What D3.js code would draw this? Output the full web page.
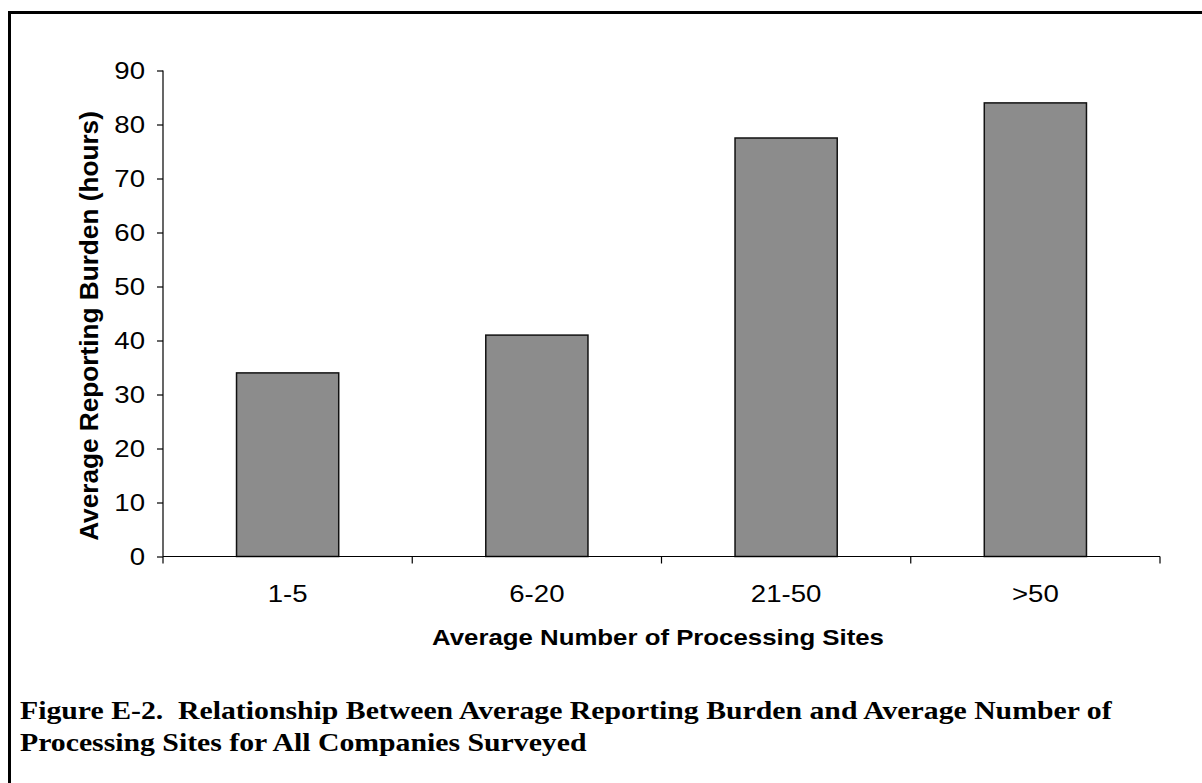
<!DOCTYPE html>
<html>
<head>
<meta charset="utf-8">
<script src="https://cdn.jsdelivr.net/npm/d3@7"></script>
<style>
  html, body { margin: 0; padding: 0; background: #fff; }
  svg { display: block; }
  .sans { font-family: "Liberation Sans", Arial, Helvetica, sans-serif; }
  .serif { font-family: "Liberation Serif", "Times New Roman", serif; white-space: pre; }
</style>
</head>
<body>
<svg id="chart" width="1202" height="783"></svg>
<script>
const categories = ["1-5", "6-20", "21-50", ">50"];
const values = [34, 41, 77.5, 84];
const yTicks = [0, 10, 20, 30, 40, 50, 60, 70, 80, 90];
const yTitle = "Average Reporting Burden (hours)";
const xTitle = "Average Number of Processing Sites";
const captionLines = [
  "Figure E-2.  Relationship Between Average Reporting Burden and Average Number of",
  "Processing Sites for All Companies Surveyed"
];

const svg = d3.select("#chart");
const SX = 1.2; // horizontal stretch of the lettering

// frame
svg.append("path")
  .attr("d", "M9.5,783 V12.5 H1202")
  .attr("fill", "none").attr("stroke", "#000").attr("stroke-width", 3);

const plot = { left: 163, right: 1160, top: 70.5, bottom: 556.5 };

const x = d3.scaleBand().domain(categories).range([plot.left, plot.right]).padding(0);
const y = d3.scaleLinear().domain([0, 90]).range([plot.bottom, plot.top]);
const barW = x.bandwidth() * 0.41;

// bars
svg.append("g").selectAll("rect").data(values).join("rect")
  .attr("x", (d, i) => x(categories[i]) + x.bandwidth() / 2 - barW / 2)
  .attr("y", d => y(d))
  .attr("width", barW)
  .attr("height", d => y(0) - y(d))
  .attr("fill", "#8c8c8c")
  .attr("stroke", "#111")
  .attr("stroke-width", 1.5);

// y axis
const yAxis = svg.append("g").attr("transform", `translate(${plot.left},0)`)
  .call(d3.axisLeft(y).tickValues(yTicks).tickSize(6).tickPadding(0).tickFormat(d3.format("d")));
yAxis.select(".domain").attr("stroke", "#000").attr("stroke-width", 1.2).attr("d", `M0,${plot.top}V${plot.bottom}`);
yAxis.selectAll(".tick line").attr("stroke", "#000").attr("stroke-width", 1.2);
yAxis.selectAll(".tick text").remove();
yAxis.selectAll(".tick").append("text")
  .attr("class", "sans")
  .attr("transform", `translate(-18,0) scale(${SX},1)`)
  .attr("text-anchor", "end").attr("dy", "0.36em")
  .attr("font-size", 23).attr("fill", "#000")
  .text(d => d);

// x axis
const xAxis = svg.append("g").attr("transform", `translate(0,${plot.bottom})`)
  .call(d3.axisBottom(x).tickSize(0).tickFormat(""));
xAxis.select(".domain").attr("stroke", "#000").attr("stroke-width", 1.2).attr("d", `M${plot.left},0H${plot.right}`);
xAxis.selectAll(".tick text").remove();
const bounds = categories.map(c => x(c)).concat([plot.right]);
xAxis.append("g").selectAll("line").data(bounds).join("line")
  .attr("x1", d => d).attr("x2", d => d).attr("y1", 0).attr("y2", 7)
  .attr("stroke", "#000").attr("stroke-width", 1.2);
xAxis.selectAll(".tick").append("text")
  .attr("class", "sans")
  .attr("transform", `translate(0,45) scale(${SX},1)`)
  .attr("text-anchor", "middle")
  .attr("font-size", 23).attr("fill", "#000")
  .text(d => d);

// axis titles
svg.append("text").attr("class", "sans")
  .attr("transform", `translate(658,645) scale(${SX},1)`)
  .attr("text-anchor", "middle").attr("font-weight", "bold").attr("font-size", 21.5)
  .text(xTitle);

svg.append("text").attr("class", "sans")
  .attr("transform", `translate(98,326) rotate(-90)`)
  .attr("text-anchor", "middle").attr("font-weight", "bold").attr("font-size", 26.2)
  .text(yTitle);

// caption
svg.append("g").selectAll("text").data(captionLines).join("text")
  .attr("class", "serif")
  .attr("xml:space", "preserve")
  .attr("transform", (d, i) => `translate(20,${719 + i * 32}) scale(1.2,1)`)
  .attr("font-weight", "bold").attr("font-size", 24.8)
  .text(d => d);
</script>
</body>
</html>
